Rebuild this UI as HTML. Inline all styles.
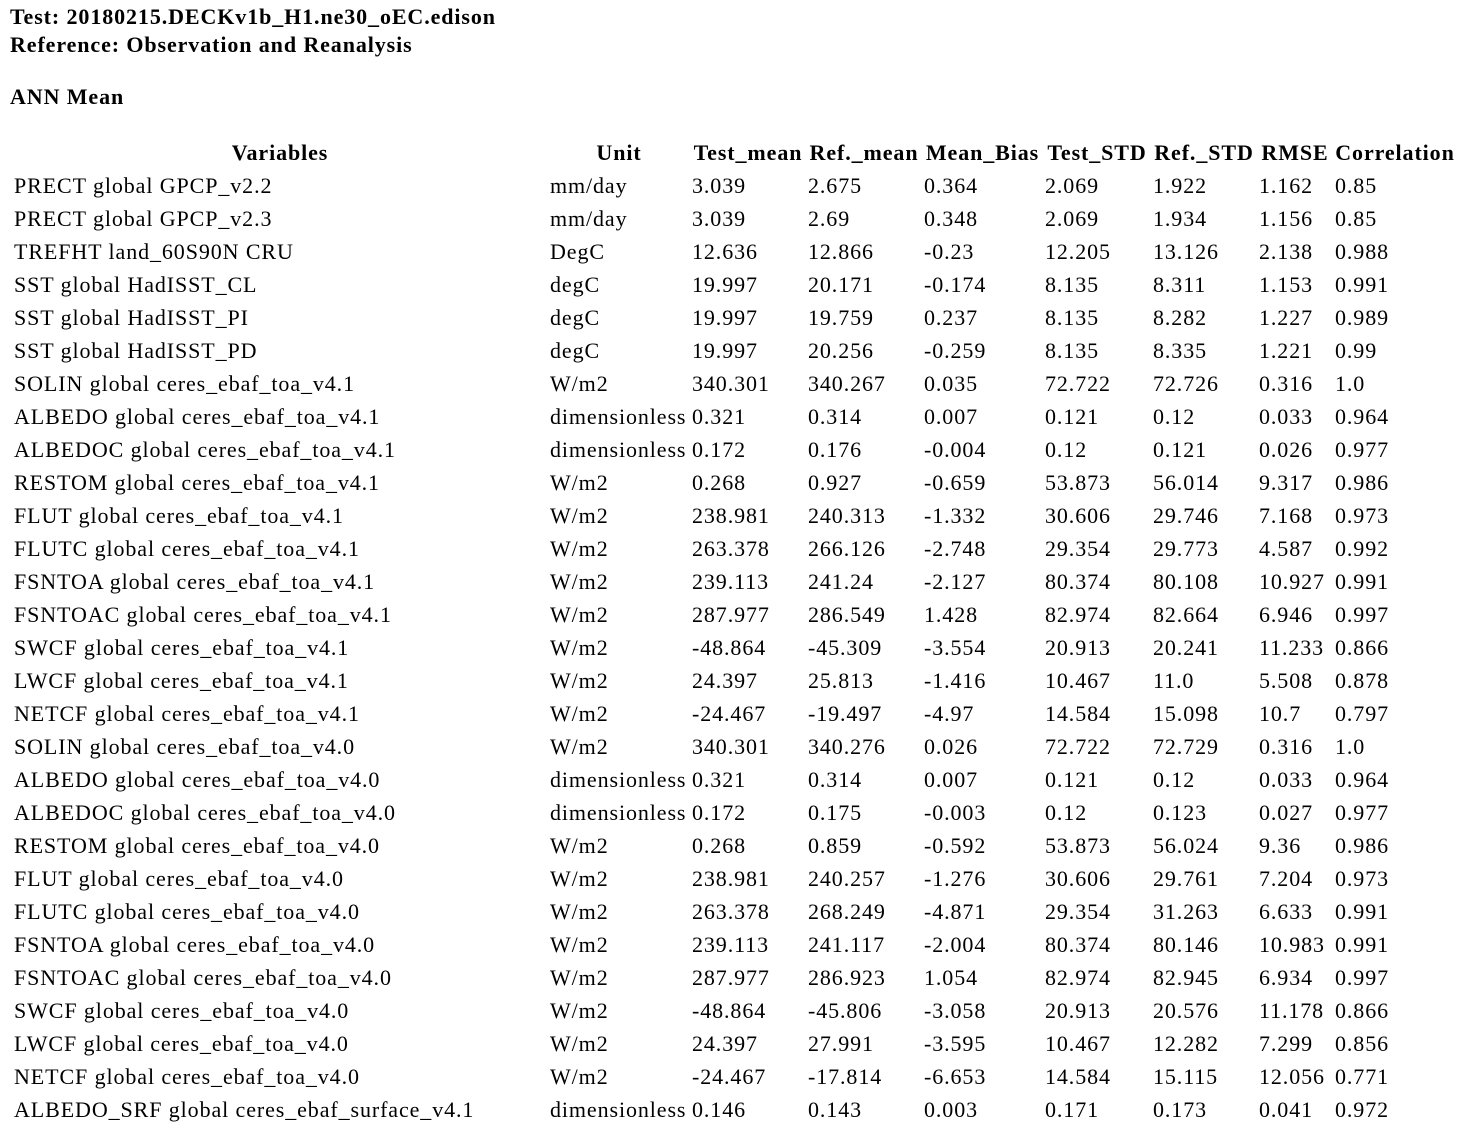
<!DOCTYPE html>
<html><head><meta charset="utf-8"><style>
body{margin:0;background:#fff;width:1478px;height:1130px;overflow:hidden;font-family:"Liberation Serif","Times New Roman",serif;font-size:22px;letter-spacing:0.9px;color:#000}
.h{position:absolute;left:10px;font-weight:bold;line-height:28px;white-space:nowrap}
table{position:absolute;left:12px;top:136px;border-collapse:collapse;table-layout:fixed}
td,th{padding:0 0 0 2px;height:33px;line-height:33px;white-space:nowrap;overflow:visible;text-align:left}
th{text-align:center;padding:0}
</style></head><body>
<div class="h" style="top:3px">Test: 20180215.DECKv1b_H1.ne30_oEC.edison</div>
<div class="h" style="top:31px">Reference: Observation and Reanalysis</div>
<div class="h" style="top:83px">ANN Mean</div>
<table>
<colgroup><col style="width:536px"><col style="width:142px"><col style="width:116px"><col style="width:116px"><col style="width:121px"><col style="width:108px"><col style="width:106px"><col style="width:76px"><col style="width:124px"></colgroup>
<tr><th>Variables</th><th>Unit</th><th>Test_mean</th><th>Ref._mean</th><th>Mean_Bias</th><th>Test_STD</th><th>Ref._STD</th><th>RMSE</th><th>Correlation</th></tr>
<tr><td>PRECT global GPCP_v2.2</td><td>mm/day</td><td>3.039</td><td>2.675</td><td>0.364</td><td>2.069</td><td>1.922</td><td>1.162</td><td>0.85</td></tr>
<tr><td>PRECT global GPCP_v2.3</td><td>mm/day</td><td>3.039</td><td>2.69</td><td>0.348</td><td>2.069</td><td>1.934</td><td>1.156</td><td>0.85</td></tr>
<tr><td>TREFHT land_60S90N CRU</td><td>DegC</td><td>12.636</td><td>12.866</td><td>-0.23</td><td>12.205</td><td>13.126</td><td>2.138</td><td>0.988</td></tr>
<tr><td>SST global HadISST_CL</td><td>degC</td><td>19.997</td><td>20.171</td><td>-0.174</td><td>8.135</td><td>8.311</td><td>1.153</td><td>0.991</td></tr>
<tr><td>SST global HadISST_PI</td><td>degC</td><td>19.997</td><td>19.759</td><td>0.237</td><td>8.135</td><td>8.282</td><td>1.227</td><td>0.989</td></tr>
<tr><td>SST global HadISST_PD</td><td>degC</td><td>19.997</td><td>20.256</td><td>-0.259</td><td>8.135</td><td>8.335</td><td>1.221</td><td>0.99</td></tr>
<tr><td>SOLIN global ceres_ebaf_toa_v4.1</td><td>W/m2</td><td>340.301</td><td>340.267</td><td>0.035</td><td>72.722</td><td>72.726</td><td>0.316</td><td>1.0</td></tr>
<tr><td>ALBEDO global ceres_ebaf_toa_v4.1</td><td>dimensionless</td><td>0.321</td><td>0.314</td><td>0.007</td><td>0.121</td><td>0.12</td><td>0.033</td><td>0.964</td></tr>
<tr><td>ALBEDOC global ceres_ebaf_toa_v4.1</td><td>dimensionless</td><td>0.172</td><td>0.176</td><td>-0.004</td><td>0.12</td><td>0.121</td><td>0.026</td><td>0.977</td></tr>
<tr><td>RESTOM global ceres_ebaf_toa_v4.1</td><td>W/m2</td><td>0.268</td><td>0.927</td><td>-0.659</td><td>53.873</td><td>56.014</td><td>9.317</td><td>0.986</td></tr>
<tr><td>FLUT global ceres_ebaf_toa_v4.1</td><td>W/m2</td><td>238.981</td><td>240.313</td><td>-1.332</td><td>30.606</td><td>29.746</td><td>7.168</td><td>0.973</td></tr>
<tr><td>FLUTC global ceres_ebaf_toa_v4.1</td><td>W/m2</td><td>263.378</td><td>266.126</td><td>-2.748</td><td>29.354</td><td>29.773</td><td>4.587</td><td>0.992</td></tr>
<tr><td>FSNTOA global ceres_ebaf_toa_v4.1</td><td>W/m2</td><td>239.113</td><td>241.24</td><td>-2.127</td><td>80.374</td><td>80.108</td><td>10.927</td><td>0.991</td></tr>
<tr><td>FSNTOAC global ceres_ebaf_toa_v4.1</td><td>W/m2</td><td>287.977</td><td>286.549</td><td>1.428</td><td>82.974</td><td>82.664</td><td>6.946</td><td>0.997</td></tr>
<tr><td>SWCF global ceres_ebaf_toa_v4.1</td><td>W/m2</td><td>-48.864</td><td>-45.309</td><td>-3.554</td><td>20.913</td><td>20.241</td><td>11.233</td><td>0.866</td></tr>
<tr><td>LWCF global ceres_ebaf_toa_v4.1</td><td>W/m2</td><td>24.397</td><td>25.813</td><td>-1.416</td><td>10.467</td><td>11.0</td><td>5.508</td><td>0.878</td></tr>
<tr><td>NETCF global ceres_ebaf_toa_v4.1</td><td>W/m2</td><td>-24.467</td><td>-19.497</td><td>-4.97</td><td>14.584</td><td>15.098</td><td>10.7</td><td>0.797</td></tr>
<tr><td>SOLIN global ceres_ebaf_toa_v4.0</td><td>W/m2</td><td>340.301</td><td>340.276</td><td>0.026</td><td>72.722</td><td>72.729</td><td>0.316</td><td>1.0</td></tr>
<tr><td>ALBEDO global ceres_ebaf_toa_v4.0</td><td>dimensionless</td><td>0.321</td><td>0.314</td><td>0.007</td><td>0.121</td><td>0.12</td><td>0.033</td><td>0.964</td></tr>
<tr><td>ALBEDOC global ceres_ebaf_toa_v4.0</td><td>dimensionless</td><td>0.172</td><td>0.175</td><td>-0.003</td><td>0.12</td><td>0.123</td><td>0.027</td><td>0.977</td></tr>
<tr><td>RESTOM global ceres_ebaf_toa_v4.0</td><td>W/m2</td><td>0.268</td><td>0.859</td><td>-0.592</td><td>53.873</td><td>56.024</td><td>9.36</td><td>0.986</td></tr>
<tr><td>FLUT global ceres_ebaf_toa_v4.0</td><td>W/m2</td><td>238.981</td><td>240.257</td><td>-1.276</td><td>30.606</td><td>29.761</td><td>7.204</td><td>0.973</td></tr>
<tr><td>FLUTC global ceres_ebaf_toa_v4.0</td><td>W/m2</td><td>263.378</td><td>268.249</td><td>-4.871</td><td>29.354</td><td>31.263</td><td>6.633</td><td>0.991</td></tr>
<tr><td>FSNTOA global ceres_ebaf_toa_v4.0</td><td>W/m2</td><td>239.113</td><td>241.117</td><td>-2.004</td><td>80.374</td><td>80.146</td><td>10.983</td><td>0.991</td></tr>
<tr><td>FSNTOAC global ceres_ebaf_toa_v4.0</td><td>W/m2</td><td>287.977</td><td>286.923</td><td>1.054</td><td>82.974</td><td>82.945</td><td>6.934</td><td>0.997</td></tr>
<tr><td>SWCF global ceres_ebaf_toa_v4.0</td><td>W/m2</td><td>-48.864</td><td>-45.806</td><td>-3.058</td><td>20.913</td><td>20.576</td><td>11.178</td><td>0.866</td></tr>
<tr><td>LWCF global ceres_ebaf_toa_v4.0</td><td>W/m2</td><td>24.397</td><td>27.991</td><td>-3.595</td><td>10.467</td><td>12.282</td><td>7.299</td><td>0.856</td></tr>
<tr><td>NETCF global ceres_ebaf_toa_v4.0</td><td>W/m2</td><td>-24.467</td><td>-17.814</td><td>-6.653</td><td>14.584</td><td>15.115</td><td>12.056</td><td>0.771</td></tr>
<tr><td>ALBEDO_SRF global ceres_ebaf_surface_v4.1</td><td>dimensionless</td><td>0.146</td><td>0.143</td><td>0.003</td><td>0.171</td><td>0.173</td><td>0.041</td><td>0.972</td></tr>
</table>
</body></html>
